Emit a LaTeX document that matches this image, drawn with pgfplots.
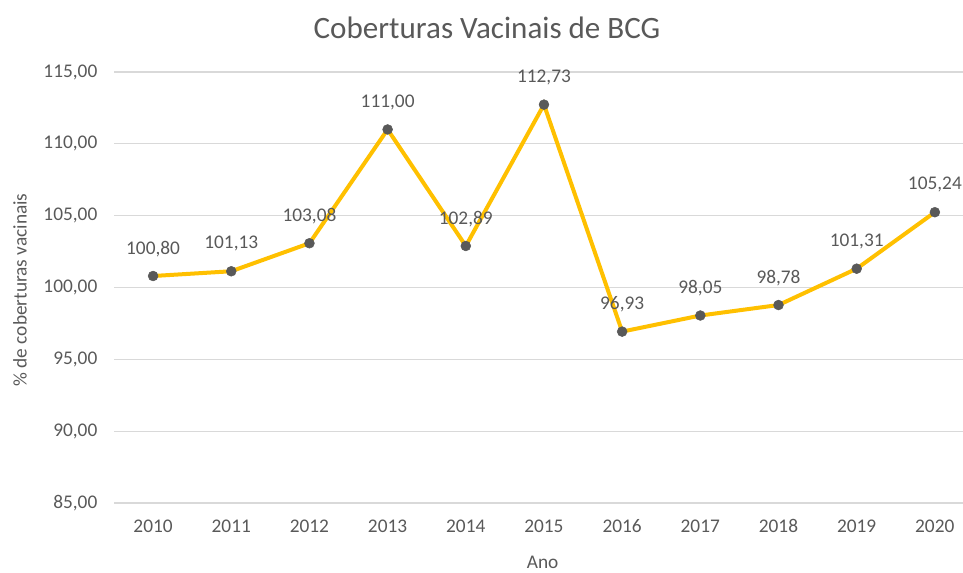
\documentclass[border=0pt]{standalone}
\usepackage{pgfplots}
\pgfplotsset{compat=1.18}
\usepackage{fontspec}
\setmainfont{Carlito}
\definecolor{txt}{HTML}{595959}
\definecolor{gridc}{HTML}{D9D9D9}
\definecolor{gold}{HTML}{FFC000}
\definecolor{mk}{HTML}{595959}
\begin{document}
\begin{tikzpicture}
\begin{axis}[
  at={(85.5pt,51.75pt)}, anchor=south west,
  scale only axis, width=636.75pt, height=323.25pt,
  xmin=2009.5, xmax=2020.36, ymin=85, ymax=115,
  ytick={85,90,...,115}, xtick={2010,...,2020},
  axis line style={draw=none}, major tick length=0pt,
  ymajorgrids, grid style={gridc, line width=1pt},
  /pgf/number format/assume math mode=true,
  yticklabel style={/pgf/number format/.cd, fixed, fixed zerofill, precision=2, use comma, /tikz/.cd, xshift=-9pt, font=\fontsize{14.5}{17}\selectfont, text=txt},
  xticklabel style={/pgf/number format/.cd, set thousands separator={}, /tikz/.cd, yshift=-9pt, font=\fontsize{14.5}{17}\selectfont, text=txt},
  clip=false,
]
\addplot[gold, line width=3pt, mark=*, mark size=3.7pt, mark options={solid, draw=mk, fill=mk, line width=0.4pt},
  nodes near coords, point meta=explicit symbolic,
  every node near coord/.style={anchor=center, yshift=20.5pt, font=\fontsize{14.5}{17}\selectfont, text=txt}]
coordinates {
(2010,100.80)[100,80]
(2011,101.13)[101,13]
(2012,103.08)[103,08]
(2013,111.00)[111,00]
(2014,102.89)[102,89]
(2015,112.73)[112,73]
(2016,96.93)[96,93]
(2017,98.05)[98,05]
(2018,98.78)[98,78]
(2019,101.31)[101,31]
(2020,105.24)[105,24]
};
\end{axis}
\node[text=txt, font=\fontsize{23.3}{28}\selectfont] at (365.25pt,408pt) {Coberturas Vacinais de BCG};
\node[text=txt, font=\fontsize{14.5}{17}\selectfont] at (407pt,7.5pt) {Ano};
\node[text=txt, font=\fontsize{14.5}{17}\selectfont, rotate=90] at (15pt,211.5pt) {\% de coberturas vacinais};
\pgfresetboundingbox
\path[use as bounding box] (0,0) rectangle (722.25pt,429pt);
\end{tikzpicture}
\end{document}
